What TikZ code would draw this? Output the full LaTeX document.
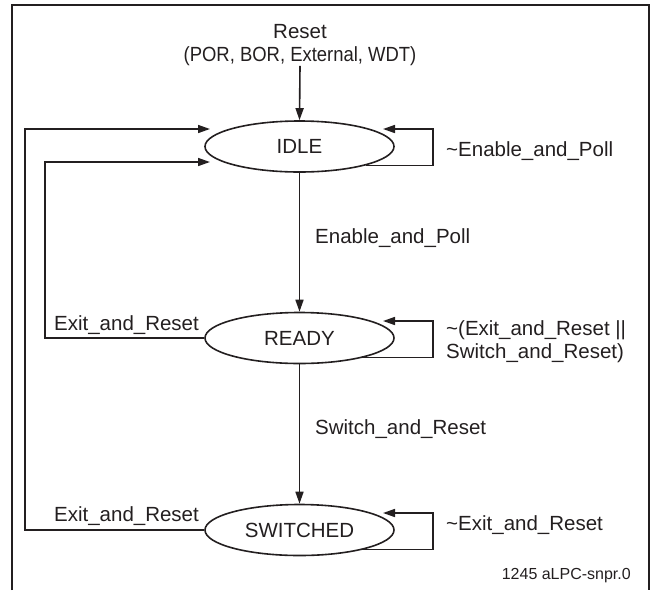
\documentclass[tikz,border=0pt]{standalone}
\usepackage{fontspec}
\setmainfont{Liberation Sans}
\usetikzlibrary{arrows.meta,shapes.geometric}
\definecolor{ink}{RGB}{35,31,32}

\begin{document}
\begin{tikzpicture}[x=1pt,y=-1pt,
  every node/.style={text=ink},
  state/.style={ellipse,draw=ink,line width=1.6pt,minimum width=189pt,minimum height=51pt,
    inner sep=0pt,font=\fontsize{20.5}{23}\selectfont},
  lbl/.style={inner sep=0pt,font=\fontsize{20.5}{23}\selectfont,align=left},
  conn/.style={draw=ink,line width=1.6pt,-{Triangle[length=12pt,width=8pt]}}]
\useasboundingbox (0,0) rectangle (650,590);

% outer frame, open at the bottom
\draw[ink,line width=2pt] (12,590) -- (12,5) -- (649,5) -- (649,590);

% states
\node[state] (idle)  at (299.5,146.5) {IDLE};
\node[state] (ready) at (299.5,338)   {READY};
\node[state] (sw)    at (299.5,530)   {SWITCHED};

% reset entry
\node[lbl,align=center] (reset) at (300,45) {Reset\\\scalebox{0.9}[1]{(POR, BOR, External, WDT)}};
\draw[conn] (reset.south) -- (idle.north);

% forward transitions
\draw[conn] (idle) -- (ready);
\draw[conn] (ready) -- (sw);
\node[lbl,anchor=west] (ep) at (315,238) {Enable\_and\_Poll};
\node[lbl,anchor=west] (sr) at (315,429) {Switch\_and\_Reset};

% return paths to IDLE
\coordinate (outer) at (25,129);
\coordinate (idleA) at (210,129);
\coordinate (inner) at (45,162);
\coordinate (idleB) at (210,162);
\draw[conn] (sw.west) -| (outer) -- (idleA);
\draw[conn] (ready.west) -| (inner) -- (idleB);
\node[lbl] (er1) at (126.5,325) {Exit\_and\_Reset};
\node[lbl] (er2) at (126.5,516) {Exit\_and\_Reset};

% self loops
\coordinate (idleR) at (433,129);   \coordinate (idleT) at (383,129);
\coordinate (readyR) at (433,321);  \coordinate (readyT) at (383,321);
\coordinate (swR) at (433,513);     \coordinate (swT) at (383,513);
\draw[conn] (idle.-16) -| (idleR) -- (idleT);
\draw[conn] (ready.-17) -| (readyR) -- (readyT);
\draw[conn] (sw.-17) -| (swR) -- (swT);
\node[lbl,anchor=west] (nep) at (446,151) {\textasciitilde Enable\_and\_Poll};
\node[lbl,anchor=west] (nes) at (446,342) {\textasciitilde(Exit\_and\_Reset ||\\Switch\_and\_Reset)};
\node[lbl,anchor=west] (ner) at (446,525) {\textasciitilde Exit\_and\_Reset};

% drawing id
\node[lbl,anchor=east,font=\fontsize{16}{19}\selectfont] (id) at (631,576) {1245 aLPC-snpr.0};
\end{tikzpicture}
\end{document}
